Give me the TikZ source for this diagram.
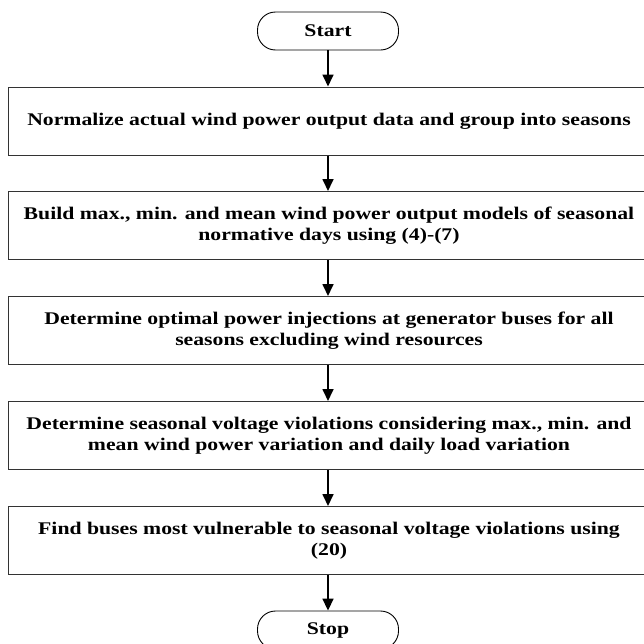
\documentclass[tikz,border=0pt]{standalone}
\usepackage{fontspec}
\setmainfont{Liberation Serif}[FakeStretch=1.22]
\usetikzlibrary{arrows.meta}
\begin{document}
\begin{tikzpicture}[x=1pt,y=-1pt,
  term/.style={draw=black,line width=0.9pt,rounded corners=18pt,minimum width=141pt,minimum height=38pt,inner sep=0pt,font=\fontsize{17.8}{20.5}\selectfont\bfseries},
  procbox/.style={draw=black!80,line width=1pt,minimum width=642pt,minimum height=68pt,inner sep=0pt,align=center,font=\fontsize{17.8}{20.5}\selectfont\bfseries},
  flow/.style={line width=1.7pt,-{Triangle[width=11pt,length=12pt]}}]
\useasboundingbox (0,0) rectangle (644,643);
\clip (0,0) rectangle (644,643);
\node[term] (start) at (328,31) {Start};
\node[procbox] (b1) at (329,121) {Normalize actual wind power output data and group into seasons};
\node[procbox] (b2) at (329,225.5) {Build max., min. and mean wind power output models of seasonal\\normative days using (4)-(7)};
\node[procbox] (b3) at (329,330.5) {Determine optimal power injections at generator buses for all\\seasons excluding wind resources};
\node[procbox] (b4) at (329,435.5) {Determine seasonal voltage violations considering max., min. and\\mean wind power variation and daily load variation};
\node[procbox] (b5) at (329,540.5) {Find buses most vulnerable to seasonal voltage violations using\\(20)};
\node[term] (stop) at (328,630) {Stop};
\draw[flow] (start.south) -- (start.south |- b1.north);
\draw[flow] (start.south |- b1.south) -- (start.south |- b2.north);
\draw[flow] (start.south |- b2.south) -- (start.south |- b3.north);
\draw[flow] (start.south |- b3.south) -- (start.south |- b4.north);
\draw[flow] (start.south |- b4.south) -- (start.south |- b5.north);
\draw[flow] (start.south |- b5.south) -- (stop.north);
\end{tikzpicture}
\end{document}
